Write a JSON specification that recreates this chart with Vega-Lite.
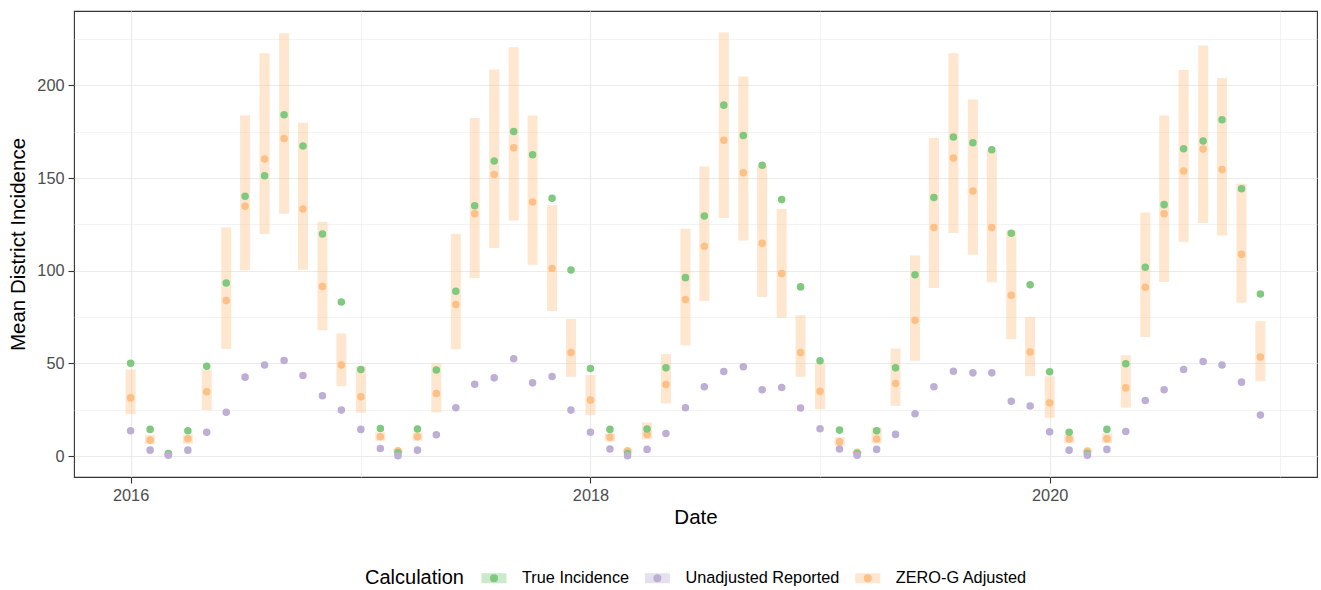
{
  "$schema": "https://vega.github.io/schema/vega-lite/v6.json",
  "width": 1243,
  "height": 466,
  "autosize": {"type": "none"},
  "padding": {"left": 74, "top": 11, "right": 4, "bottom": 113},
  "background": "white",
  "config": {
    "font": "Liberation Sans",
    "view": {"stroke": "#333333", "strokeWidth": 1.1},
    "axis": {
      "domain": false,
      "gridColor": "#EBEBEB",
      "tickColor": "#333333",
      "tickSize": 6,
      "tickWidth": 1.1,
      "labelColor": "#4D4D4D",
      "labelFontSize": 16.3,
      "labelPadding": 4,
      "labelOverlap": false,
      "labelFlush": false,
      "titleColor": "#000000",
      "titleFontSize": 20.5,
      "titleFontWeight": "normal"
    },
    "legend": {
      "orient": "none",
      "legendX": 291,
      "legendY": 552.5,
      "direction": "horizontal",
      "titleOrient": "left",
      "titleAnchor": "middle",
      "titleBaseline": "middle",
      "titleFontSize": 20,
      "titleFontWeight": "normal",
      "titleColor": "#000000",
      "titlePadding": 15.5,
      "labelFontSize": 16.3,
      "labelColor": "#000000",
      "labelOffset": 13.5,
      "columnPadding": 7.4,
      "symbolType": "M-0.16,0A0.16,0.16,0,1,1,0.16,0A0.16,0.16,0,1,1,-0.16,0ZM0,0H0.16H-0.16H0.16H-0.16H0L-1,-0.4H1V0.4H-1V-0.4L0,0Z",
      "symbolSize": 625,
      "symbolStrokeWidth": 4,
      "symbolDash": [13, 2000],
      "symbolOpacity": 1
    }
  },
  "data": {
    "values": [
      {"date": "2016-01-01", "True Incidence": 50.1, "Unadjusted Reported": 13.7, "ZERO-G Adjusted": 31.4, "lo": 22.6, "hi": 46.7},
      {"date": "2016-02-01", "True Incidence": 14.4, "Unadjusted Reported": 3.2, "ZERO-G Adjusted": 8.6, "lo": 6.5, "hi": 11.3},
      {"date": "2016-03-01", "True Incidence": 1.4, "Unadjusted Reported": 0.4, "ZERO-G Adjusted": 1.0, "lo": 0.6, "hi": 1.6},
      {"date": "2016-04-01", "True Incidence": 13.7, "Unadjusted Reported": 3.2, "ZERO-G Adjusted": 9.3, "lo": 6.7, "hi": 11.5},
      {"date": "2016-05-01", "True Incidence": 48.5, "Unadjusted Reported": 12.8, "ZERO-G Adjusted": 34.7, "lo": 24.8, "hi": 46.7},
      {"date": "2016-06-01", "True Incidence": 93.4, "Unadjusted Reported": 23.7, "ZERO-G Adjusted": 83.9, "lo": 57.9, "hi": 123.3},
      {"date": "2016-07-01", "True Incidence": 140.2, "Unadjusted Reported": 42.6, "ZERO-G Adjusted": 134.8, "lo": 100.3, "hi": 183.8},
      {"date": "2016-08-01", "True Incidence": 151.3, "Unadjusted Reported": 49.2, "ZERO-G Adjusted": 160.3, "lo": 119.9, "hi": 217.4},
      {"date": "2016-09-01", "True Incidence": 184.2, "Unadjusted Reported": 51.6, "ZERO-G Adjusted": 171.4, "lo": 130.8, "hi": 228.2},
      {"date": "2016-10-01", "True Incidence": 167.3, "Unadjusted Reported": 43.5, "ZERO-G Adjusted": 133.3, "lo": 100.6, "hi": 179.9},
      {"date": "2016-11-01", "True Incidence": 119.9, "Unadjusted Reported": 32.5, "ZERO-G Adjusted": 91.5, "lo": 67.9, "hi": 126.5},
      {"date": "2016-12-01", "True Incidence": 83.2, "Unadjusted Reported": 24.8, "ZERO-G Adjusted": 49.1, "lo": 37.7, "hi": 66.1},
      {"date": "2017-01-01", "True Incidence": 46.7, "Unadjusted Reported": 14.4, "ZERO-G Adjusted": 32.0, "lo": 23.4, "hi": 48.5},
      {"date": "2017-02-01", "True Incidence": 14.9, "Unadjusted Reported": 4.1, "ZERO-G Adjusted": 10.4, "lo": 8.3, "hi": 12.8},
      {"date": "2017-03-01", "True Incidence": 1.8, "Unadjusted Reported": 0.2, "ZERO-G Adjusted": 2.9, "lo": 2.0, "hi": 3.6},
      {"date": "2017-04-01", "True Incidence": 14.6, "Unadjusted Reported": 3.2, "ZERO-G Adjusted": 10.4, "lo": 8.3, "hi": 12.8},
      {"date": "2017-05-01", "True Incidence": 46.4, "Unadjusted Reported": 11.5, "ZERO-G Adjusted": 33.8, "lo": 23.5, "hi": 50.0},
      {"date": "2017-06-01", "True Incidence": 88.9, "Unadjusted Reported": 26.1, "ZERO-G Adjusted": 81.8, "lo": 57.7, "hi": 120.0},
      {"date": "2017-07-01", "True Incidence": 135.1, "Unadjusted Reported": 38.8, "ZERO-G Adjusted": 130.8, "lo": 96.1, "hi": 182.4},
      {"date": "2017-08-01", "True Incidence": 159.2, "Unadjusted Reported": 42.2, "ZERO-G Adjusted": 152.0, "lo": 112.3, "hi": 208.6},
      {"date": "2017-09-01", "True Incidence": 175.2, "Unadjusted Reported": 52.5, "ZERO-G Adjusted": 166.4, "lo": 127.2, "hi": 220.7},
      {"date": "2017-10-01", "True Incidence": 162.6, "Unadjusted Reported": 39.5, "ZERO-G Adjusted": 137.1, "lo": 103.3, "hi": 183.8},
      {"date": "2017-11-01", "True Incidence": 139.1, "Unadjusted Reported": 42.9, "ZERO-G Adjusted": 101.2, "lo": 78.3, "hi": 135.3},
      {"date": "2017-12-01", "True Incidence": 100.4, "Unadjusted Reported": 24.8, "ZERO-G Adjusted": 55.9, "lo": 42.8, "hi": 74.0},
      {"date": "2018-01-01", "True Incidence": 47.3, "Unadjusted Reported": 12.9, "ZERO-G Adjusted": 30.2, "lo": 22.1, "hi": 43.7},
      {"date": "2018-02-01", "True Incidence": 14.4, "Unadjusted Reported": 3.8, "ZERO-G Adjusted": 10.1, "lo": 7.8, "hi": 12.3},
      {"date": "2018-03-01", "True Incidence": 1.4, "Unadjusted Reported": 0.2, "ZERO-G Adjusted": 2.9, "lo": 2.0, "hi": 3.6},
      {"date": "2018-04-01", "True Incidence": 14.6, "Unadjusted Reported": 3.6, "ZERO-G Adjusted": 11.7, "lo": 9.0, "hi": 18.1},
      {"date": "2018-05-01", "True Incidence": 47.6, "Unadjusted Reported": 12.2, "ZERO-G Adjusted": 38.6, "lo": 28.4, "hi": 55.0},
      {"date": "2018-06-01", "True Incidence": 96.3, "Unadjusted Reported": 26.1, "ZERO-G Adjusted": 84.5, "lo": 59.8, "hi": 122.7},
      {"date": "2018-07-01", "True Incidence": 129.6, "Unadjusted Reported": 37.4, "ZERO-G Adjusted": 113.2, "lo": 83.7, "hi": 156.3},
      {"date": "2018-08-01", "True Incidence": 189.4, "Unadjusted Reported": 45.6, "ZERO-G Adjusted": 170.4, "lo": 128.5, "hi": 228.6},
      {"date": "2018-09-01", "True Incidence": 173.0, "Unadjusted Reported": 48.2, "ZERO-G Adjusted": 152.9, "lo": 116.3, "hi": 204.9},
      {"date": "2018-10-01", "True Incidence": 156.9, "Unadjusted Reported": 35.8, "ZERO-G Adjusted": 114.8, "lo": 85.9, "hi": 156.9},
      {"date": "2018-11-01", "True Incidence": 138.4, "Unadjusted Reported": 37.0, "ZERO-G Adjusted": 98.5, "lo": 74.6, "hi": 133.3},
      {"date": "2018-12-01", "True Incidence": 91.3, "Unadjusted Reported": 25.9, "ZERO-G Adjusted": 55.9, "lo": 42.8, "hi": 76.0},
      {"date": "2019-01-01", "True Incidence": 51.4, "Unadjusted Reported": 14.7, "ZERO-G Adjusted": 35.0, "lo": 25.3, "hi": 50.0},
      {"date": "2019-02-01", "True Incidence": 14.0, "Unadjusted Reported": 3.8, "ZERO-G Adjusted": 7.7, "lo": 5.5, "hi": 10.2},
      {"date": "2019-03-01", "True Incidence": 1.4, "Unadjusted Reported": 0.4, "ZERO-G Adjusted": 2.0, "lo": 1.3, "hi": 2.7},
      {"date": "2019-04-01", "True Incidence": 13.7, "Unadjusted Reported": 3.6, "ZERO-G Adjusted": 9.2, "lo": 6.8, "hi": 15.5},
      {"date": "2019-05-01", "True Incidence": 47.6, "Unadjusted Reported": 11.7, "ZERO-G Adjusted": 39.2, "lo": 27.1, "hi": 58.0},
      {"date": "2019-06-01", "True Incidence": 97.8, "Unadjusted Reported": 22.8, "ZERO-G Adjusted": 73.3, "lo": 51.4, "hi": 108.2},
      {"date": "2019-07-01", "True Incidence": 139.6, "Unadjusted Reported": 37.4, "ZERO-G Adjusted": 123.3, "lo": 90.7, "hi": 171.6},
      {"date": "2019-08-01", "True Incidence": 172.2, "Unadjusted Reported": 45.8, "ZERO-G Adjusted": 160.8, "lo": 120.4, "hi": 217.4},
      {"date": "2019-09-01", "True Incidence": 169.1, "Unadjusted Reported": 44.9, "ZERO-G Adjusted": 143.0, "lo": 108.7, "hi": 192.5},
      {"date": "2019-10-01", "True Incidence": 165.3, "Unadjusted Reported": 44.9, "ZERO-G Adjusted": 123.4, "lo": 93.8, "hi": 165.3},
      {"date": "2019-11-01", "True Incidence": 120.2, "Unadjusted Reported": 29.6, "ZERO-G Adjusted": 86.8, "lo": 63.1, "hi": 121.8},
      {"date": "2019-12-01", "True Incidence": 92.5, "Unadjusted Reported": 27.0, "ZERO-G Adjusted": 56.2, "lo": 43.1, "hi": 75.1},
      {"date": "2020-01-01", "True Incidence": 45.5, "Unadjusted Reported": 13.1, "ZERO-G Adjusted": 28.8, "lo": 20.7, "hi": 43.1},
      {"date": "2020-02-01", "True Incidence": 12.8, "Unadjusted Reported": 3.2, "ZERO-G Adjusted": 9.2, "lo": 7.0, "hi": 11.7},
      {"date": "2020-03-01", "True Incidence": 1.4, "Unadjusted Reported": 0.4, "ZERO-G Adjusted": 2.7, "lo": 1.9, "hi": 3.5},
      {"date": "2020-04-01", "True Incidence": 14.4, "Unadjusted Reported": 3.6, "ZERO-G Adjusted": 9.3, "lo": 7.0, "hi": 12.2},
      {"date": "2020-05-01", "True Incidence": 49.8, "Unadjusted Reported": 13.3, "ZERO-G Adjusted": 36.8, "lo": 26.1, "hi": 54.4},
      {"date": "2020-06-01", "True Incidence": 101.9, "Unadjusted Reported": 30.0, "ZERO-G Adjusted": 91.1, "lo": 64.3, "hi": 131.4},
      {"date": "2020-07-01", "True Incidence": 135.7, "Unadjusted Reported": 35.8, "ZERO-G Adjusted": 130.8, "lo": 94.0, "hi": 183.8},
      {"date": "2020-08-01", "True Incidence": 165.9, "Unadjusted Reported": 46.7, "ZERO-G Adjusted": 153.8, "lo": 115.7, "hi": 208.4},
      {"date": "2020-09-01", "True Incidence": 170.0, "Unadjusted Reported": 51.0, "ZERO-G Adjusted": 165.7, "lo": 125.8, "hi": 221.6},
      {"date": "2020-10-01", "True Incidence": 181.5, "Unadjusted Reported": 49.1, "ZERO-G Adjusted": 154.7, "lo": 119.0, "hi": 204.0},
      {"date": "2020-11-01", "True Incidence": 144.3, "Unadjusted Reported": 39.9, "ZERO-G Adjusted": 108.9, "lo": 82.7, "hi": 147.0},
      {"date": "2020-12-01", "True Incidence": 87.5, "Unadjusted Reported": 22.1, "ZERO-G Adjusted": 53.5, "lo": 40.4, "hi": 72.8}
    ]
  },
  "encoding": {
    "x": {
      "field": "date",
      "type": "temporal",
      "title": "Date",
      "scale": {
        "type": "utc",
        "domain": [
          {"year": 2015, "month": 10, "date": 3, "utc": true},
          {"year": 2021, "month": 3, "date": 1, "utc": true}
        ]
      },
      "axis": {
        "values": [
          {"year": 2016, "month": 1, "date": 1, "utc": true},
          {"year": 2017, "month": 1, "date": 1, "utc": true},
          {"year": 2018, "month": 1, "date": 1, "utc": true},
          {"year": 2019, "month": 1, "date": 1, "utc": true},
          {"year": 2020, "month": 1, "date": 1, "utc": true},
          {"year": 2021, "month": 1, "date": 1, "utc": true}
        ],
        "labelExpr": "utcyear(datum.value) % 2 === 0 ? utcFormat(datum.value, '%Y') : ''",
        "gridWidth": {"condition": {"test": "utcyear(datum.value) % 2 === 0", "value": 1.2}, "value": 0.6},
        "tickOpacity": {"condition": {"test": "utcyear(datum.value) % 2 === 0", "value": 1}, "value": 0},
        "titlePadding": 4
      }
    }
  },
  "layer": [
    {
      "mark": {"type": "rule", "color": "#FDC086", "strokeWidth": 10, "strokeCap": "butt", "strokeOpacity": 0.4},
      "encoding": {
        "y": {
          "field": "lo",
          "type": "quantitative",
          "title": "Mean District Incidence",
          "scale": {"domain": [-11.3, 240.2], "nice": false, "zero": false}
        },
        "y2": {"field": "hi"}
      }
    },
    {
      "transform": [
        {"fold": ["ZERO-G Adjusted", "True Incidence", "Unadjusted Reported"], "as": ["calc", "value"]}
      ],
      "mark": {"type": "point", "filled": true, "opacity": 1, "size": 12.57, "strokeWidth": 4},
      "encoding": {
        "y": {"field": "value", "type": "quantitative", "title": "Mean District Incidence",
          "axis": {
            "values": [0, 25, 50, 75, 100, 125, 150, 175, 200, 225],
            "labelExpr": "datum.value % 50 === 0 ? datum.label : ''",
            "gridWidth": {"condition": {"test": "datum.value % 50 === 0", "value": 1.2}, "value": 0.6},
            "tickOpacity": {"condition": {"test": "datum.value % 50 === 0", "value": 1}, "value": 0},
            "titlePadding": 8
          }
        },
        "fill": {
          "field": "calc",
          "type": "nominal",
          "title": "Calculation",
          "scale": {"range": ["#CCE9CC", "#E5DFEE", "#FEE6CF"]}
        },
        "stroke": {
          "field": "calc",
          "type": "nominal",
          "title": "Calculation",
          "scale": {"range": ["#7FC97F", "#BEAED4", "#FDC086"]}
        }
      }
    }
  ]
}
